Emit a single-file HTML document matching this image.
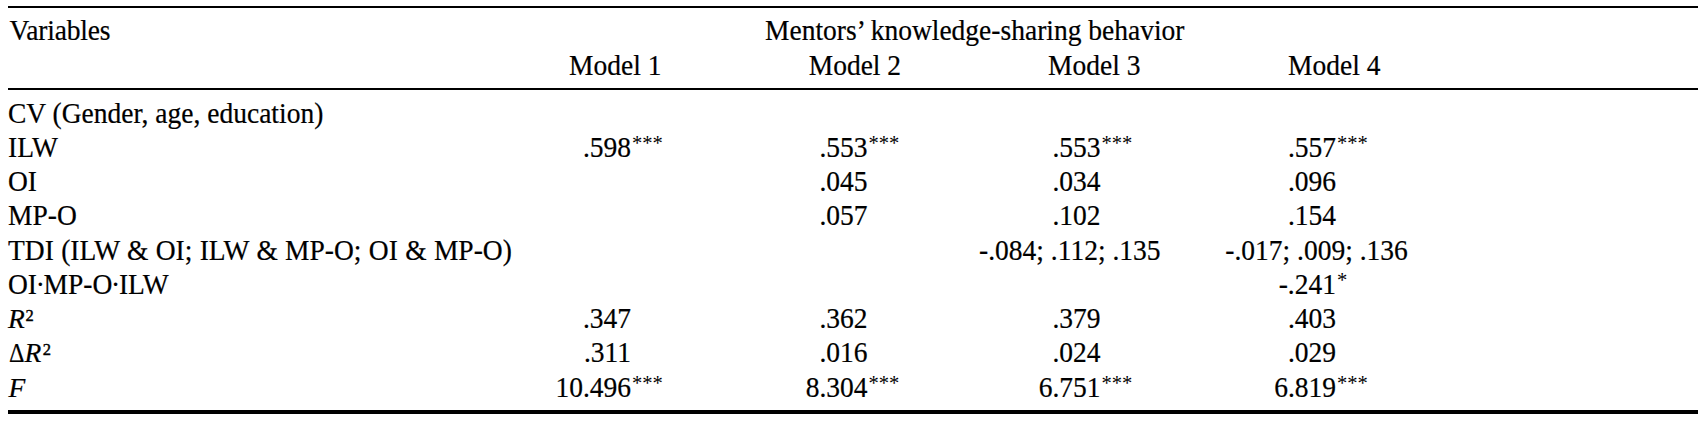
<!DOCTYPE html>
<html>
<head>
<meta charset="utf-8">
<style>
html,body{margin:0;padding:0;background:#fff;}
body{-webkit-text-stroke:0.2px #000;width:1708px;height:421px;position:relative;overflow:hidden;font-family:"Liberation Serif","Times New Roman",serif;color:#000;}
.rule{position:absolute;left:8px;width:1690px;background:#000;}
.t{position:absolute;font-size:27.5px;line-height:30px;white-space:nowrap;transform:scaleY(1.035);transform-origin:0 24px;}
.n{position:absolute;font-size:27.5px;line-height:30px;white-space:nowrap;width:300px;text-align:right;transform:scaleY(1.035);transform-origin:0 24px;}
.s{position:absolute;left:100%;top:-5px;-webkit-text-stroke:0;font-size:20.6px;line-height:30px;margin-left:1px;}
.c1{left:331px;}
.c2{left:567.5px;}
.c3{left:800.5px;}
.c4{left:1036px;}
.sup{position:relative;font-size:16.5px;top:-7px;margin-left:0.6px;-webkit-text-stroke:0.4px #000;}
.dot{margin:0 -1.3px;}
.dl{display:inline-block;transform:scale(0.875,0.93);transform-origin:0 24px;margin-left:0.7px;margin-right:-2px;}
i{font-style:italic;display:inline-block;transform:scaleY(0.955);transform-origin:0 24px;}
</style>
</head>
<body>
<div class="rule" style="top:6px;height:2px;"></div>
<div class="rule" style="top:88px;height:2px;"></div>
<div class="rule" style="top:410px;height:4px;"></div>

<div class="t" style="left:9.5px;top:15.7px;letter-spacing:-0.17px;">Variables</div>
<div class="t" style="left:765px;top:15.7px;">Mentors’ knowledge-sharing behavior</div>

<div class="t" style="left:569px;top:51.1px;">Model 1</div>
<div class="t" style="left:808.7px;top:51.1px;">Model 2</div>
<div class="t" style="left:1048px;top:51.1px;">Model 3</div>
<div class="t" style="left:1288px;top:51.1px;">Model 4</div>

<div class="t" style="left:8px;top:98.7px;">CV (Gender, age, education)</div>
<div class="t" style="left:8px;top:132.95px;">ILW</div>
<div class="t" style="left:8px;top:167.2px;">OI</div>
<div class="t" style="left:8px;top:201.45px;">MP-O</div>
<div class="t" style="left:8px;top:235.7px;word-spacing:0.45px;">TDI (ILW &amp; OI; ILW &amp; MP-O; OI &amp; MP-O)</div>
<div class="t" style="left:8px;top:269.95px;">OI<span class="dot">·</span>MP-O<span class="dot">·</span>ILW</div>
<div class="t" style="left:8px;top:304.2px;"><i>R</i><span class="sup">2</span></div>
<div class="t" style="left:8px;top:338.45px;"><span class="dl">Δ</span><i>R</i><span class="sup" style="margin-left:1.6px">2</span></div>
<div class="t" style="left:8.6px;top:372.7px;"><i>F</i></div>

<!-- ILW row -->
<div class="n c1" style="top:132.95px;">.598<span class="s">***</span></div>
<div class="n c2" style="top:132.95px;">.553<span class="s">***</span></div>
<div class="n c3" style="top:132.95px;">.553<span class="s">***</span></div>
<div class="n c4" style="top:132.95px;">.557<span class="s">***</span></div>
<!-- OI row -->
<div class="n c2" style="top:167.2px;">.045</div>
<div class="n c3" style="top:167.2px;">.034</div>
<div class="n c4" style="top:167.2px;">.096</div>
<!-- MP-O row -->
<div class="n c2" style="top:201.45px;">.057</div>
<div class="n c3" style="top:201.45px;">.102</div>
<div class="n c4" style="top:201.45px;">.154</div>
<!-- TDI row -->
<div class="t" style="left:979px;top:235.7px;">-.084; .112; .135</div>
<div class="t" style="left:1225.3px;top:235.7px;">-.017; .009; .136</div>
<!-- OI.MP-O.ILW row -->
<div class="n c4" style="top:269.95px;">-.241<span class="s">*</span></div>
<!-- R2 -->
<div class="n c1" style="top:304.2px;">.347</div>
<div class="n c2" style="top:304.2px;">.362</div>
<div class="n c3" style="top:304.2px;">.379</div>
<div class="n c4" style="top:304.2px;">.403</div>
<!-- dR2 -->
<div class="n c1" style="top:338.45px;">.311</div>
<div class="n c2" style="top:338.45px;">.016</div>
<div class="n c3" style="top:338.45px;">.024</div>
<div class="n c4" style="top:338.45px;">.029</div>
<!-- F -->
<div class="n c1" style="top:372.7px;">10.496<span class="s">***</span></div>
<div class="n c2" style="top:372.7px;">8.304<span class="s">***</span></div>
<div class="n c3" style="top:372.7px;">6.751<span class="s">***</span></div>
<div class="n c4" style="top:372.7px;">6.819<span class="s">***</span></div>
</body>
</html>
